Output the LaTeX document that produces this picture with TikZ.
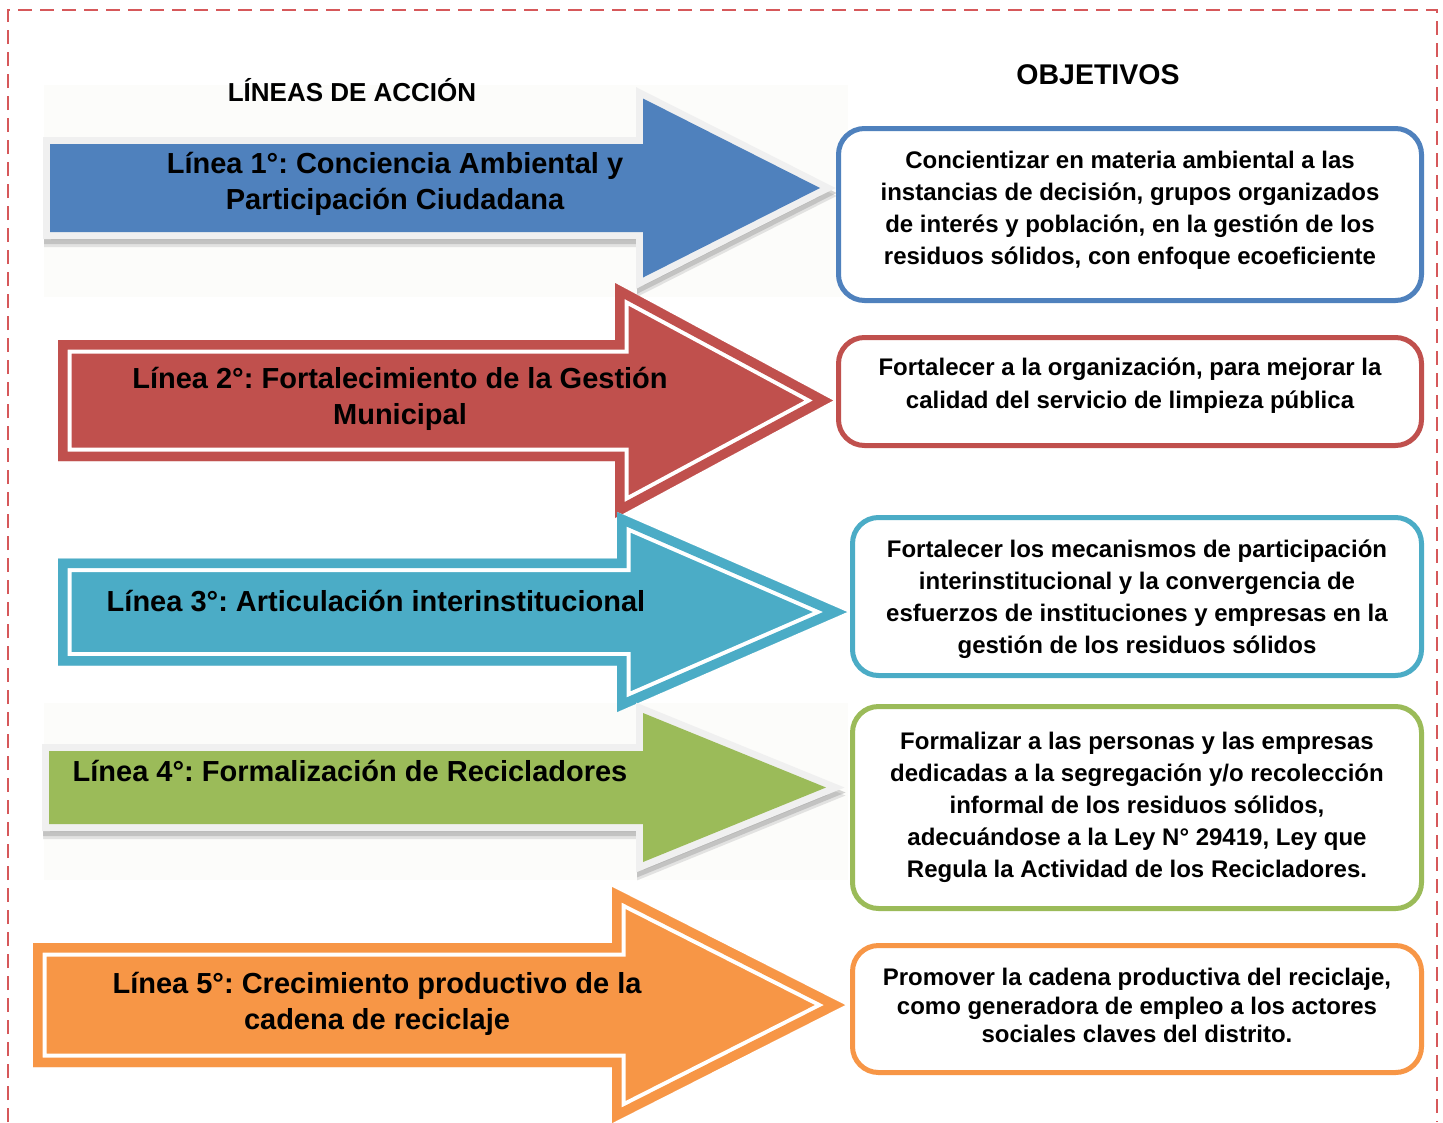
\documentclass[tikz,border=0pt]{standalone}
\usepackage{fontspec}
\setmainfont{Liberation Sans}
\frenchspacing
\definecolor{cblue}{HTML}{4F81BD}
\definecolor{cred}{HTML}{C0504D}
\definecolor{ccyan}{HTML}{4BACC6}
\definecolor{cgreen}{HTML}{9BBB59}
\definecolor{corange}{HTML}{F79646}
\definecolor{cframe}{HTML}{D6585A}
\definecolor{cborder}{HTML}{F0F0F0}
\definecolor{cshadow}{HTML}{8A8A8A}
\definecolor{cglow}{HTML}{FCFCFA}
% solid arrow with inner white outline: color, L, H, X, Y, half body, half head
\newcommand{\solidarrow}[7]{%
  \begin{scope}
    \clip (#2,#5-#6) -- (#3,#5-#6) -- (#3,#5-#7) -- (#4,#5) -- (#3,#5+#7) -- (#3,#5+#6) -- (#2,#5+#6) -- cycle;
    \fill[#1] (#2,#5-#6) -- (#3,#5-#6) -- (#3,#5-#7) -- (#4,#5) -- (#3,#5+#7) -- (#3,#5+#6) -- (#2,#5+#6) -- cycle;
    \draw[white, line width=27pt, line join=miter, miter limit=20] (#2,#5-#6) -- (#3,#5-#6) -- (#3,#5-#7) -- (#4,#5) -- (#3,#5+#7) -- (#3,#5+#6) -- (#2,#5+#6) -- cycle;
    \draw[#1, line width=19pt, line join=miter, miter limit=20] (#2,#5-#6) -- (#3,#5-#6) -- (#3,#5-#7) -- (#4,#5) -- (#3,#5+#7) -- (#3,#5+#6) -- (#2,#5+#6) -- cycle;
  \end{scope}}
% bordered arrow with shadow: color, L, H, X, Y, half body, half head
\newcommand{\borderarrow}[7]{%
  \filldraw[cshadow, opacity=0.22, line width=14pt, line join=miter, shift={(1,8)}] (#2,#5-#6) -- (#3,#5-#6) -- (#3,#5-#7) -- (#4,#5) -- (#3,#5+#7) -- (#3,#5+#6) -- (#2,#5+#6) -- cycle;
  \filldraw[cshadow, opacity=0.35, line width=14pt, line join=miter, shift={(1,5)}] (#2,#5-#6) -- (#3,#5-#6) -- (#3,#5-#7) -- (#4,#5) -- (#3,#5+#7) -- (#3,#5+#6) -- (#2,#5+#6) -- cycle;
  \filldraw[cborder, line width=14pt, line join=miter] (#2,#5-#6) -- (#3,#5-#6) -- (#3,#5-#7) -- (#4,#5) -- (#3,#5+#7) -- (#3,#5+#6) -- (#2,#5+#6) -- cycle;
  \fill[#1] (#2,#5-#6) -- (#3,#5-#6) -- (#3,#5-#7) -- (#4,#5) -- (#3,#5+#7) -- (#3,#5+#6) -- (#2,#5+#6) -- cycle;}
\begin{document}
\begin{tikzpicture}[x=1pt, y=-1pt,
  arrtext/.style={font=\fontsize{29}{36}\selectfont\bfseries, align=center, inner sep=0pt, text=black},
  objtext/.style={font=\fontsize{24}{32}\selectfont\bfseries, align=center, inner sep=0pt, text=black},
  objbox/.style={draw=#1, line width=5pt, rounded corners=26pt, fill=white, inner sep=0pt},
  heading/.style={font=\bfseries, inner sep=0pt, text=black}]
\useasboundingbox (0,0) rectangle (1443,1122);
\fill[white] (0,0) rectangle (1443,1122);
% faint glow areas
\fill[cglow] (44,85) rectangle (848,297);
\fill[cglow] (44,703) rectangle (848,880);
% frame
\draw[cframe, line width=2.5pt, dash pattern=on 14pt off 8pt] (8,1122) -- (8,10) -- (1437,10) -- (1437,1122);
% headings
\node[heading, font=\fontsize{26}{30}\selectfont\bfseries] (h1) at (352,90) {LÍNEAS DE ACCIÓN};
\node[heading, font=\fontsize{28.5}{32}\selectfont\bfseries] (h2) at (1098,75) {OBJETIVOS};
% arrows
\borderarrow{cblue}{50}{643}{820}{188}{44}{89.5}
\solidarrow{cred}{58}{615}{833}{400.5}{60.5}{117.5}
\solidarrow{ccyan}{58}{617}{847}{612}{53.5}{100}
\borderarrow{cgreen}{49}{643}{826}{787.5}{36.5}{74.5}
\solidarrow{corange}{33}{612}{845}{1005}{62}{118}
% arrow texts
\node[arrtext] (a1) at (395,184) {Línea 1°: Conciencia Ambiental y\\Participación Ciudadana};
\node[arrtext] (a2) at (400,399) {Línea 2°: Fortalecimiento de la Gestión\\Municipal};
\node[arrtext] (a3) at (376,601) {Línea 3°: Articulación interinstitucional};
\node[arrtext] (a4) at (350,771) {Línea 4°: Formalización de Recicladores};
\node[arrtext] (a5) at (377,1004) {Línea 5°: Crecimiento productivo de la\\cadena de reciclaje};
% objective boxes
\node[objbox=cblue, minimum width=583pt, minimum height=172pt] (b1) at (1130,214.5) {};
\node[objbox=cred, minimum width=583pt, minimum height=108pt] (b2) at (1130,391.5) {};
\node[objbox=ccyan, minimum width=569pt, minimum height=158pt] (b3) at (1137,596.5) {};
\node[objbox=cgreen, minimum width=569pt, minimum height=202pt] (b4) at (1137,807.5) {};
\node[objbox=corange, minimum width=569pt, minimum height=127pt] (b5) at (1137,1009) {};
\node[objtext] (o1) at (1130,210) {Concientizar en materia ambiental a las\\instancias de decisión, grupos organizados\\de interés y población, en la gestión de los\\residuos sólidos, con enfoque ecoeficiente};
\node[objtext, font=\fontsize{24}{33}\selectfont\bfseries] (o2) at (1130,386) {Fortalecer a la organización, para mejorar la\\calidad del servicio de limpieza pública};
\node[objtext] (o3) at (1137,599) {Fortalecer los mecanismos de participación\\interinstitucional y la convergencia de\\esfuerzos de instituciones y empresas en la\\gestión de los residuos sólidos};
\node[objtext] (o4) at (1137,807) {Formalizar a las personas y las empresas\\dedicadas a la segregación y/o recolección\\informal de los residuos sólidos,\\adecuándose a la Ley N° 29419, Ley que\\Regula la Actividad de los Recicladores.};
\node[objtext, font=\fontsize{24}{28.5}\selectfont\bfseries] (o5) at (1137,1005.5) {Promover la cadena productiva del reciclaje,\\como generadora de empleo a los actores\\sociales claves del distrito.};
\end{tikzpicture}
\end{document}
